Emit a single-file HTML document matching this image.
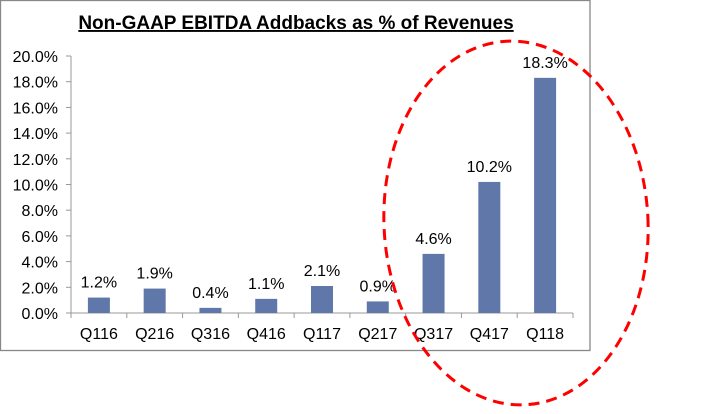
<!DOCTYPE html>
<html><head><meta charset="utf-8"><style>
body{margin:0;background:#fff;}
svg text{font-family:"Liberation Sans",Arial,sans-serif;}
</style></head><body>
<svg width="720" height="409" viewBox="0 0 720 409">
<rect x="0.5" y="0.5" width="589.5" height="350" fill="#fff" stroke="#888" stroke-width="1.3"/>
<text x="296" y="29" text-anchor="middle" font-size="19" font-weight="bold" text-decoration="underline">Non-GAAP EBITDA Addbacks as % of Revenues</text>
<g id="plot"></g>
<ellipse cx="516" cy="223" rx="132" ry="182" fill="none" stroke="#f00" stroke-width="3" stroke-dasharray="11,7" transform="rotate(-3 516 223)"/>
</svg>
<script>
const categories=["Q116","Q216","Q316","Q416","Q117","Q217","Q317","Q417","Q118"];
const values=[1.2,1.9,0.4,1.1,2.1,0.9,4.6,10.2,18.3];
const valueLabels=["1.2%","1.9%","0.4%","1.1%","2.1%","0.9%","4.6%","10.2%","18.3%"];
const yTicks=[0,2,4,6,8,10,12,14,16,18,20];
const x0=71,x1=573,y0=313,yTop=56,yMax=20;
const NS="http://www.w3.org/2000/svg";
const g=document.getElementById('plot');
const band=(x1-x0)/categories.length;
const yS=v=>y0-(v/yMax)*(y0-yTop);
const xC=i=>x0+band*(i+0.5);
function mk(t,a){const e=document.createElementNS(NS,t);for(const k in a)e.setAttribute(k,a[k]);g.appendChild(e);return e;}
let ax=mk('line',{x1:x0,y1:yTop,x2:x0,y2:y0,stroke:'#999','stroke-width':1});


yTicks.forEach(t=>{
 const y=yS(t);
 const tk=mk('line',{x1:x0-5,y1:y,x2:x0,y2:y,stroke:'#999'});
 
 
 const tx=mk('text',{x:58,y:y+6,'text-anchor':'end','font-size':16});
 tx.textContent=t.toFixed(1)+'%';
 
 
});
let xa=mk('line',{x1:x0,y1:y0,x2:x1,y2:y0,stroke:'#999'});


for(let i=0;i<=categories.length;i++){
 const x=x0+band*i;
 const tk=mk('line',{x1:x,y1:y0,x2:x,y2:y0+5,stroke:'#999'});
 
 
}
categories.forEach((c,i)=>{
 const bw=22,x=xC(i),y=yS(values[i]);
 const r=mk('rect',{x:x-bw/2,y:y,width:bw,height:y0-y,fill:'#5f77a9'});
 
 
 const l=mk('text',{x:x,y:y-10,'text-anchor':'middle','font-size':16});
 l.textContent=valueLabels[i];
 
 
 const cl=mk('text',{x:x,y:339,'text-anchor':'middle','font-size':16});
 cl.textContent=c;
 
 
});
</script>
</body></html>
